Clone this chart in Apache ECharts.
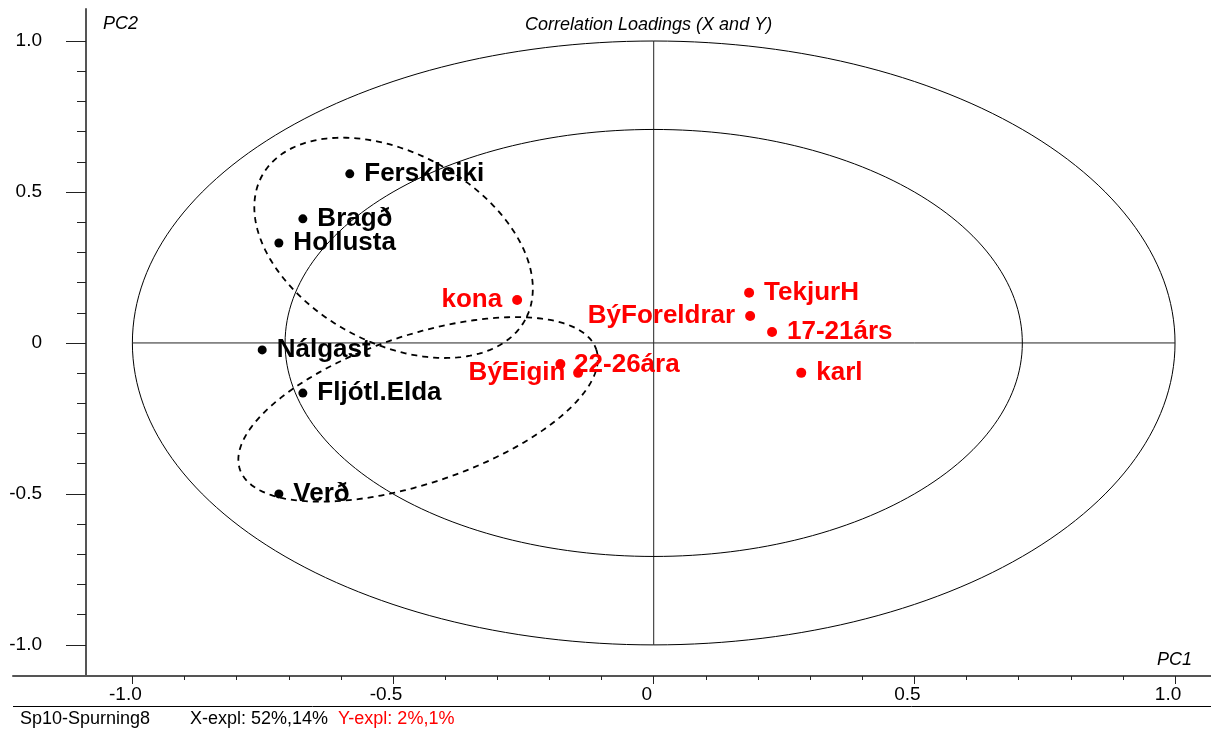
<!DOCTYPE html>
<html>
<head>
<meta charset="utf-8">
<title>Correlation Loadings (X and Y)</title>
<script src="https://cdn.jsdelivr.net/npm/echarts@6/dist/echarts.min.js"></script>
<style>
    body { margin: 0; background: #fff; }
    #loadings_chart { width: 1211px; height: 729px; }
</style>
</head>
<body>
<div id="loadings_chart"></div>
<script>
/*X 变量载荷 (黑色)*/
var xNames = ['Ferskleiki', 'Bragð', 'Hollusta', 'Nálgast', 'Fljótl.Elda', 'Verð'];
var xPC1 = [-0.583, -0.673, -0.719, -0.751, -0.673, -0.719];
var xPC2 = [0.560, 0.411, 0.331, -0.023, -0.166, -0.500];

/*Y 变量载荷 (红色)*/
var yNames = ['kona', 'TekjurH', 'BýForeldrar', '17-21árs', 'karl', 'BýEigin', '22-26ára'];
var yPC1 = [-0.262, 0.183, 0.185, 0.227, 0.283, -0.179, -0.145];
var yPC2 = [0.142, 0.166, 0.089, 0.036, -0.099, -0.070, -0.099];

/*刻度*/
var majorTicks = [-1.0, -0.5, 0, 0.5, 1.0];
var minorTicks = [-0.9, -0.8, -0.7, -0.6, -0.4, -0.3, -0.2, -0.1,
    0.1, 0.2, 0.3, 0.4, 0.6, 0.7, 0.8, 0.9];

/*相关圆: 100% 和 50% 解释方差*/
var circleRadii = [1.0, Math.SQRT1_2];

/*虚线分组椭圆 (中心为数据坐标, 半轴为像素, 角度为屏幕角度)*/
var groupEllipses = [
    {center: [-0.499, 0.315], a: 150, b: 95, angle: 28.7},
    {center: [-0.452, -0.220], a: 188, b: 74, angle: -18.6}
];

/*标签位置 (仅样式)*/
var leftLabels = ['kona', 'BýForeldrar', 'BýEigin'];
var labelShift = {'BýEigin': [20, 9], '22-26ára': [-19, -8]};

var fontName = 'Liberation Sans, Arial, sans-serif';

function tickText(value) {
    return value === 0 ? '0' : value.toFixed(1);
}

function buildPoints(names, pc1, pc2) {
    var items = [];
    for (var i = 0; i < names.length; i++) {
        var item = {name: names[i], value: [pc1[i], pc2[i]]};
        var label = {};
        if (leftLabels.indexOf(names[i]) >= 0) {
            label.position = 'left';
        }
        if (labelShift[names[i]]) {
            label.offset = labelShift[names[i]];
        }
        item.label = label;
        items.push(item);
    }
    return items;
}

function ellipsePoints(cx, cy, rx, ry, angleDeg) {
    var pts = [];
    var th = angleDeg * Math.PI / 180;
    var n = 240;
    for (var k = 0; k <= n; k++) {
        var t = 2 * Math.PI * k / n;
        var ex = rx * Math.cos(t);
        var ey = ry * Math.sin(t);
        pts.push([cx + ex * Math.cos(th) - ey * Math.sin(th), cy + ex * Math.sin(th) + ey * Math.cos(th)]);
    }
    return pts;
}

function loadingsChart() {
    var myChart = echarts.init(document.getElementById('loadings_chart'));

    var pointLabel = {
        show: true,
        position: 'right',
        distance: 10,
        formatter: '{b}',
        fontSize: 26,
        fontWeight: 'bold',
        fontFamily: fontName,
        opacity: 1
    };

    var option = {
        animation: false,
        textStyle: {fontFamily: fontName},
        title: {
            text: 'Correlation Loadings (X and Y)',
            left: 525,
            top: 16,
            padding: 0,
            textStyle: {fontStyle: 'italic', fontWeight: 'normal', fontSize: 18, color: '#000'}
        },
        grid: {left: 13, right: 0, top: 9, bottom: 53, outerBoundsMode: 'none'},
        xAxis: [{
            type: 'value',
            min: -1.229,
            max: 1.069,
            position: 'bottom',
            axisLine: {show: true, onZero: false, lineStyle: {color: '#555', width: 2}},
            axisTick: {show: true, length: 8, customValues: majorTicks, lineStyle: {color: '#222'}},
            axisLabel: {customValues: majorTicks, formatter: tickText, fontSize: 19, color: '#000', margin: 9, padding: [0, 14, 0, 0]},
            splitLine: {show: false}
        }, {
            type: 'value',
            min: -1.229,
            max: 1.069,
            position: 'bottom',
            axisLine: {show: false, onZero: false},
            axisTick: {show: true, length: 4, customValues: minorTicks, lineStyle: {color: '#222'}},
            axisLabel: {show: false},
            splitLine: {show: false}
        }],
        yAxis: [{
            type: 'value',
            min: -1.103,
            max: 1.106,
            position: 'left',
            offset: -73,
            axisLine: {show: true, onZero: false, lineStyle: {color: '#555', width: 2}},
            axisTick: {show: true, length: 20, customValues: majorTicks, lineStyle: {color: '#222'}},
            axisLabel: {customValues: majorTicks, formatter: tickText, fontSize: 19, color: '#000', margin: 44},
            splitLine: {show: false}
        }, {
            type: 'value',
            min: -1.103,
            max: 1.106,
            position: 'left',
            offset: -73,
            axisLine: {show: false, onZero: false},
            axisTick: {show: true, length: 9, customValues: minorTicks, lineStyle: {color: '#222'}},
            axisLabel: {show: false},
            splitLine: {show: false}
        }],
        graphic: [
            {type: 'text', left: 103, top: 15, style: {text: 'PC2', font: 'italic 18px ' + fontName, fill: '#000'}},
            {type: 'text', left: 1157, top: 651, style: {text: 'PC1', font: 'italic 18px ' + fontName, fill: '#000'}},
            {type: 'line', shape: {x1: 13, y1: 706.5, x2: 1211, y2: 706.5}, style: {stroke: '#000', lineWidth: 1}},
            {type: 'text', left: 20, top: 710, style: {text: 'Sp10-Spurning8', font: '18px ' + fontName, fill: '#000'}},
            {type: 'text', left: 190, top: 710, style: {text: 'X-expl: 52%,14%', font: '18px ' + fontName, fill: '#000'}},
            {type: 'text', left: 338, top: 710, style: {text: 'Y-expl: 2%,1%', font: '18px ' + fontName, fill: '#ff0000'}}
        ],
        series: [
            {
                /*相关圆和十字线*/
                type: 'custom',
                silent: true,
                data: circleRadii.map(function (r) { return [0, 0, r]; }),
                renderItem: function (params, api) {
                    var c = api.coord([api.value(0), api.value(1)]);
                    var s = api.size([api.value(2), api.value(2)]);
                    var children = [{
                        type: 'polyline',
                        shape: {points: ellipsePoints(c[0], c[1], s[0], s[1], 0)},
                        style: {stroke: '#000', fill: null, lineWidth: 1}
                    }];
                    if (params.dataIndex === 0) {
                        var r = api.value(2);
                        var h1 = api.coord([-r, 0]), h2 = api.coord([r, 0]);
                        var v1 = api.coord([0, -r]), v2 = api.coord([0, r]);
                        children.push({type: 'line', shape: {x1: h1[0], y1: h1[1], x2: h2[0], y2: h2[1]}, style: {stroke: '#222', lineWidth: 1}});
                        children.push({type: 'line', shape: {x1: v1[0], y1: v1[1], x2: v2[0], y2: v2[1]}, style: {stroke: '#222', lineWidth: 1}});
                    }
                    return {type: 'group', children: children};
                }
            },
            {
                /*虚线分组*/
                type: 'custom',
                silent: true,
                data: groupEllipses.map(function (g) { return [g.center[0], g.center[1]]; }),
                renderItem: function (params, api) {
                    var g = groupEllipses[params.dataIndex];
                    var c = api.coord([api.value(0), api.value(1)]);
                    return {
                        type: 'polyline',
                        shape: {points: ellipsePoints(c[0], c[1], g.a, g.b, g.angle)},
                        style: {stroke: '#000', fill: null, lineWidth: 1.8, lineDash: [6, 5]}
                    };
                }
            },
            {
                name: 'X',
                type: 'scatter',
                symbolSize: 9,
                itemStyle: {color: '#000', opacity: 1},
                label: Object.assign({color: '#000'}, pointLabel),
                data: buildPoints(xNames, xPC1, xPC2)
            },
            {
                name: 'Y',
                type: 'scatter',
                symbolSize: 10,
                itemStyle: {color: '#ff0000', opacity: 1},
                label: Object.assign({color: '#ff0000'}, pointLabel),
                data: buildPoints(yNames, yPC1, yPC2)
            }
        ]
    };
    myChart.setOption(option);
    window.addEventListener("resize", function () {
        myChart.resize();
    });
}

loadingsChart();
</script>
</body>
</html>
